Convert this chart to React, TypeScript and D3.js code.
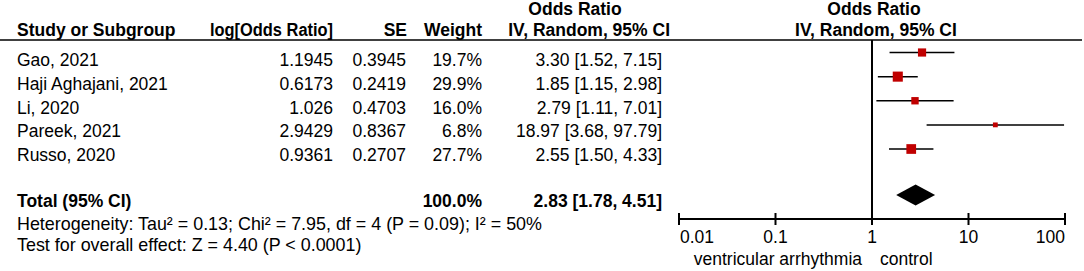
import React from "react";
import * as d3 from "d3";

const studies = ["Gao, 2021", "Haji Aghajani, 2021", "Li, 2020", "Pareek, 2021", "Russo, 2020"];
const logOR = ["1.1945", "0.6173", "1.026", "2.9429", "0.9361"];
const se = ["0.3945", "0.2419", "0.4703", "0.8367", "0.2707"];
const weights = [19.7, 29.9, 16.0, 6.8, 27.7];
const orValues = [3.30, 1.85, 2.79, 18.97, 2.55];
const ciLow = [1.52, 1.15, 1.11, 3.68, 1.50];
const ciHigh = [7.15, 2.98, 7.01, 97.79, 4.33];
const total = { or: 2.83, lo: 1.78, hi: 4.51, weight: "100.0%" };
const axisTicks = [0.01, 0.1, 1, 10, 100];
const tickLabels = ["0.01", "0.1", "1", "10", "100"];
const heterogeneity = "Heterogeneity: Tau² = 0.13; Chi² = 7.95, df = 4 (P = 0.09); I² = 50%";
const overall = "Test for overall effect: Z = 4.40 (P < 0.0001)";
const leftLabel = "ventricular arrhythmia";
const rightLabel = "control";

const W = 1084;
const H = 271;
const FONT = "'Liberation Sans', Arial, sans-serif";
const FS = 17.5;
const RED = "#C00000";

export default function App() {
  const x = d3.scaleLog().domain([0.01, 100]).range([679, 1065]);
  const rowY = d3.scaleLinear().domain([0, 4]).range([52.5, 149]);
  const textY = d3.scaleLinear().domain([0, 4]).range([66, 161]);
  const size = d3.scaleSqrt().domain([0, 30]).range([0, 10.1]);
  const totalY = 195;
  const axisY = 219;
  const headerLine = 40;
  const fmt = (v: number) => v.toFixed(2);

  const txt = (props: any, s: string) => (
    <text fontFamily={FONT} fontSize={FS} fill="#000" {...props}>{s}</text>
  );

  return (
    <svg width={W} height={H} style={{ position: "absolute", left: 0, top: 0, background: "#fff" }}>
      <rect width={W} height={H} fill="#fff" />
      {/* headers */}
      {txt({ x: 17, y: 36, fontWeight: "bold" }, "Study or Subgroup")}
      {txt({ x: 333, y: 36, textAnchor: "end", fontWeight: "bold", textLength: 123, lengthAdjust: "spacingAndGlyphs" }, "log[Odds Ratio]")}
      {txt({ x: 407, y: 36, textAnchor: "end", fontWeight: "bold" }, "SE")}
      {txt({ x: 482, y: 36, textAnchor: "end", fontWeight: "bold" }, "Weight")}
      {txt({ x: 575, y: 15, textAnchor: "middle", fontWeight: "bold" }, "Odds Ratio")}
      {txt({ x: 670, y: 36, textAnchor: "end", fontWeight: "bold" }, "IV, Random, 95% CI")}
      {txt({ x: 874, y: 15, textAnchor: "middle", fontWeight: "bold" }, "Odds Ratio")}
      {txt({ x: 876, y: 36, textAnchor: "middle", fontWeight: "bold" }, "IV, Random, 95% CI")}
      <line x1={0} x2={1082} y1={headerLine} y2={headerLine} stroke="#000" strokeWidth={1.6} />

      {/* study rows */}
      {studies.map((s, i) => {
        const ty = textY(i);
        return (
          <g key={s}>
            {txt({ x: 17, y: ty }, s)}
            {txt({ x: 333, y: ty, textAnchor: "end" }, logOR[i])}
            {txt({ x: 406, y: ty, textAnchor: "end" }, se[i])}
            {txt({ x: 482, y: ty, textAnchor: "end" }, weights[i].toFixed(1) + "%")}
            {txt({ x: 662, y: ty, textAnchor: "end" }, `${fmt(orValues[i])} [${fmt(ciLow[i])}, ${fmt(ciHigh[i])}]`)}
          </g>
        );
      })}

      {/* total row */}
      {txt({ x: 17, y: 206.5, fontWeight: "bold" }, "Total (95% CI)")}
      {txt({ x: 482, y: 206.5, textAnchor: "end", fontWeight: "bold" }, total.weight)}
      {txt({ x: 662, y: 206.5, textAnchor: "end", fontWeight: "bold" }, `${fmt(total.or)} [${fmt(total.lo)}, ${fmt(total.hi)}]`)}
      {txt({ x: 17, y: 230, fontSize: 17.9 }, heterogeneity)}
      {txt({ x: 17, y: 251, fontSize: 17.9 }, overall)}

      {/* plot */}
      <line x1={x(1)} x2={x(1)} y1={headerLine} y2={axisY} stroke="#000" strokeWidth={2} />
      {studies.map((s, i) => {
        const cy = rowY(i);
        const sz = size(weights[i]);
        return (
          <g key={"m" + s}>
            <line x1={x(ciLow[i])} x2={x(ciHigh[i])} y1={cy} y2={cy} stroke="#000" strokeWidth={1.5} />
            <rect x={x(orValues[i]) - sz / 2} y={cy - sz / 2} width={sz} height={sz} fill={RED} />
          </g>
        );
      })}
      <path
        d={`M${x(total.lo)},${totalY} L${x(total.or)},${totalY - 10.5} L${x(total.hi)},${totalY} L${x(total.or)},${totalY + 10.5} Z`}
        fill="#000"
      />

      {/* axis */}
      <line x1={x(0.01)} x2={x(100)} y1={axisY} y2={axisY} stroke="#000" strokeWidth={2} />
      {axisTicks.map((t, i) => (
        <g key={"t" + t}>
          <line x1={x(t)} x2={x(t)} y1={axisY - 6} y2={axisY + 6} stroke="#000" strokeWidth={2} />
          {txt(
            {
              x: i === 0 ? x(t) + 1 : x(t),
              y: 243,
              textAnchor: i === 0 ? "start" : i === axisTicks.length - 1 ? "end" : "middle",
            },
            tickLabels[i]
          )}
        </g>
      ))}
      {txt({ x: 862, y: 265, textAnchor: "end" }, leftLabel)}
      {txt({ x: 880, y: 265 }, rightLabel)}
    </svg>
  );
}
